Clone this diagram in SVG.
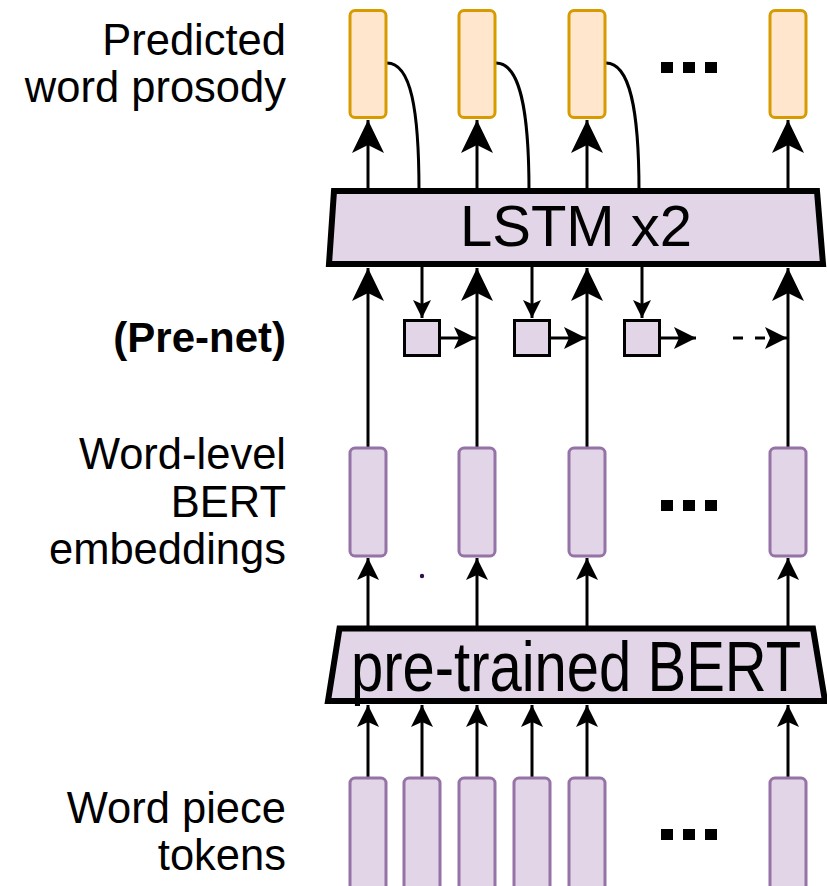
<svg xmlns="http://www.w3.org/2000/svg" width="827" height="886" viewBox="0 0 827 886">
<style>
.lbl{font-family:"Liberation Sans",Arial,Helvetica,sans-serif;font-size:43.5px;fill:#000;text-anchor:end}
.big{font-family:"Liberation Sans",Arial,Helvetica,sans-serif;font-size:58px;fill:#000;text-anchor:middle}
.out{fill:#ffe6cc;stroke:#d79b00;stroke-width:3}
.emb{fill:#e1d5e7;stroke:#9673a6;stroke-width:3}
.trap{fill:#e1d5e7;stroke:#000;stroke-width:6;stroke-linejoin:miter}
.pre{fill:#e1d5e7;stroke:#000;stroke-width:3}
.ln{fill:none;stroke:#000;stroke-width:3}
.dots rect{fill:#000}
</style>
<defs>
<marker id="aL" markerUnits="userSpaceOnUse" markerWidth="33" markerHeight="32" viewBox="0 0 33 32" refX="33" refY="16" orient="auto"><path d="M0,0 L33,16 L0,32 L8,16 Z" fill="#000"/></marker>
<marker id="aM" markerUnits="userSpaceOnUse" markerWidth="22" markerHeight="22" viewBox="0 0 22 22" refX="22" refY="11" orient="auto"><path d="M0,0 L22,11 L0,22 L5,11 Z" fill="#000"/></marker>
<marker id="aS" markerUnits="userSpaceOnUse" markerWidth="18" markerHeight="18" viewBox="0 0 18 18" refX="18" refY="9" orient="auto"><path d="M0,0 L18,9 L0,18 L4,9 Z" fill="#000"/></marker>
</defs>

<g id="labels">
<text class="lbl" x="286" y="55">Predicted</text>
<text class="lbl" x="286" y="102">word prosody</text>
<text class="lbl" x="286" y="352" font-weight="bold" style="font-size:42px">(Pre-net)</text>
<text class="lbl" x="286" y="469">Word-level</text>
<text class="lbl" x="286" y="517">BERT</text>
<text class="lbl" x="286" y="564">embeddings</text>
<text class="lbl" x="286" y="823">Word piece</text>
<text class="lbl" x="286" y="870">tokens</text>
</g>

<g id="connectors">
<line class="ln" x1="368" y1="191" x2="368" y2="120" marker-end="url(#aL)"/>
<line class="ln" x1="477" y1="191" x2="477" y2="120" marker-end="url(#aL)"/>
<line class="ln" x1="587" y1="191" x2="587" y2="120" marker-end="url(#aL)"/>
<line class="ln" x1="788" y1="191" x2="788" y2="120" marker-end="url(#aL)"/>
<path class="ln" d="M387,63 C411,63 419,110 419,191"/>
<path class="ln" d="M496,63 C520,63 529,110 529,191"/>
<path class="ln" d="M606,63 C630,63 639,110 639,191"/>
<line class="ln" x1="368" y1="447" x2="368" y2="268" marker-end="url(#aL)"/>
<line class="ln" x1="477" y1="447" x2="477" y2="268" marker-end="url(#aL)"/>
<line class="ln" x1="587" y1="447" x2="587" y2="268" marker-end="url(#aL)"/>
<line class="ln" x1="788" y1="447" x2="788" y2="268" marker-end="url(#aL)"/>
<line class="ln" x1="422" y1="264" x2="422" y2="318" marker-end="url(#aS)"/>
<line class="ln" x1="532" y1="264" x2="532" y2="318" marker-end="url(#aS)"/>
<line class="ln" x1="642" y1="264" x2="642" y2="318" marker-end="url(#aS)"/>
<line class="ln" x1="441" y1="338" x2="476" y2="338" marker-end="url(#aM)"/>
<line class="ln" x1="551" y1="338" x2="586" y2="338" marker-end="url(#aM)"/>
<line class="ln" x1="661" y1="338" x2="696" y2="338" marker-end="url(#aM)"/>
<line class="ln" x1="733" y1="338" x2="787" y2="338" stroke-dasharray="10 12" marker-end="url(#aM)"/>
<line class="ln" x1="368" y1="626" x2="368" y2="558" marker-end="url(#aM)"/>
<line class="ln" x1="477" y1="626" x2="477" y2="558" marker-end="url(#aM)"/>
<line class="ln" x1="587" y1="626" x2="587" y2="558" marker-end="url(#aM)"/>
<line class="ln" x1="788" y1="626" x2="788" y2="558" marker-end="url(#aM)"/>
<line class="ln" x1="368" y1="778" x2="368" y2="705" marker-end="url(#aM)"/>
<line class="ln" x1="422" y1="778" x2="422" y2="705" marker-end="url(#aM)"/>
<line class="ln" x1="477" y1="778" x2="477" y2="705" marker-end="url(#aM)"/>
<line class="ln" x1="532" y1="778" x2="532" y2="705" marker-end="url(#aM)"/>
<line class="ln" x1="587" y1="778" x2="587" y2="705" marker-end="url(#aM)"/>
<line class="ln" x1="788" y1="778" x2="788" y2="705" marker-end="url(#aM)"/>
</g>

<g id="outputs">
<rect class="out" x="350" y="10.5" width="36" height="107" rx="5"/>
<rect class="out" x="459" y="10.5" width="36" height="107" rx="5"/>
<rect class="out" x="569" y="10.5" width="36" height="107" rx="5"/>
<rect class="out" x="770" y="10.5" width="36" height="107" rx="5"/>
<g class="dots"><rect x="661" y="62" width="12" height="11"/><rect x="683" y="62" width="12" height="11"/><rect x="705" y="62" width="12" height="11"/></g>
</g>

<g id="lstm">
<polygon class="trap" points="334,191 817,191 823,264 329,264"/>
<text class="big" x="576" y="246">LSTM x2</text>
</g>

<g id="prenet">
<rect class="pre" x="404.5" y="320.5" width="35" height="35"/>
<rect class="pre" x="514.5" y="320.5" width="35" height="35"/>
<rect class="pre" x="624.5" y="320.5" width="35" height="35"/>
</g>

<g id="embeddings">
<rect class="emb" x="350" y="448" width="36" height="108" rx="5"/>
<rect class="emb" x="459" y="448" width="36" height="108" rx="5"/>
<rect class="emb" x="569" y="448" width="36" height="108" rx="5"/>
<rect class="emb" x="770" y="448" width="36" height="108" rx="5"/>
<g class="dots"><rect x="661" y="500" width="12" height="11"/><rect x="683" y="500" width="12" height="11"/><rect x="705" y="500" width="12" height="11"/></g>
<circle cx="422" cy="576" r="2.2" fill="#33104a"/>
</g>

<g id="bert">
<polygon class="trap" points="339.5,628.5 813,628.5 825,701 328,701"/>
<text class="big" transform="translate(576,691) scale(1,1.2)" x="0" y="0">pre-trained BERT</text>
</g>

<g id="tokens">
<rect class="emb" x="350" y="778" width="36" height="120" rx="5"/>
<rect class="emb" x="404" y="778" width="36" height="120" rx="5"/>
<rect class="emb" x="459" y="778" width="36" height="120" rx="5"/>
<rect class="emb" x="514" y="778" width="36" height="120" rx="5"/>
<rect class="emb" x="569" y="778" width="36" height="120" rx="5"/>
<rect class="emb" x="770" y="778" width="36" height="120" rx="5"/>
<g class="dots"><rect x="661" y="829" width="12" height="11"/><rect x="683" y="829" width="12" height="11"/><rect x="705" y="829" width="12" height="11"/></g>
</g>
</svg>
